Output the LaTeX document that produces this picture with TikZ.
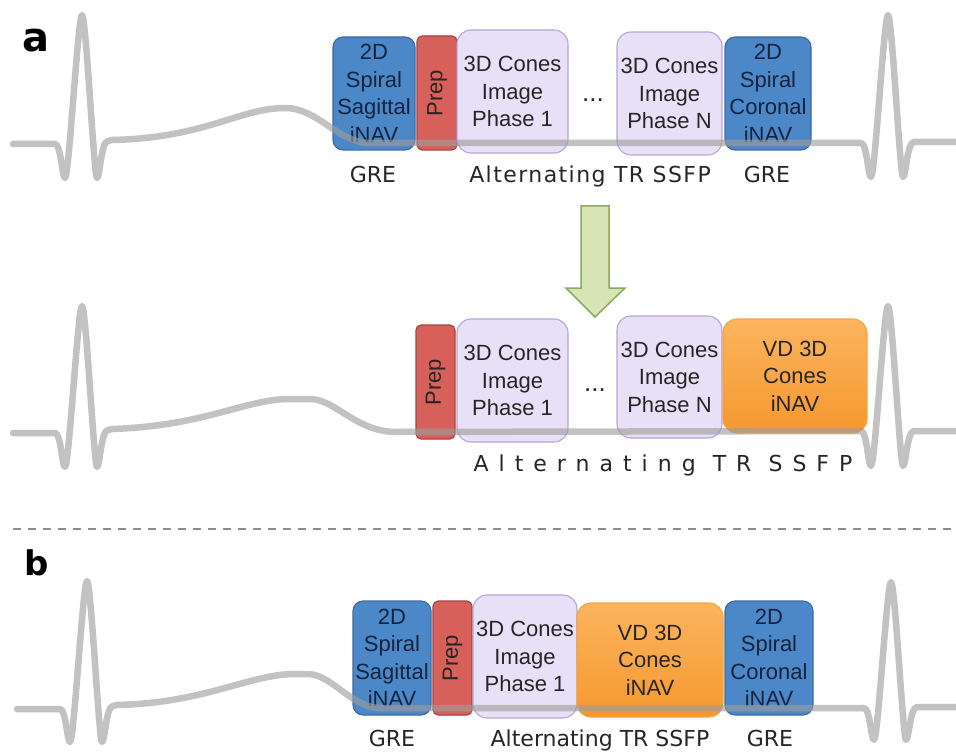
\documentclass[tikz,border=0pt]{standalone}
\usepackage{fontspec}
\setmainfont{Liberation Sans}
\newfontfamily\labfont{DejaVu Sans}
\newfontfamily\labfontA[LetterSpace=6.5]{DejaVu Sans}
\newfontfamily\labfontB[LetterSpace=45.5]{DejaVu Sans}
\newfontfamily\panelfont{DejaVu Sans}
\usetikzlibrary{positioning}
\definecolor{blueF}{HTML}{4C87C7}
\definecolor{blueD}{HTML}{3A6BA3}
\definecolor{navyT}{HTML}{16243F}
\definecolor{prepF}{HTML}{D8605A}
\definecolor{prepD}{HTML}{A4443E}
\definecolor{lavF}{HTML}{E8E0F6}
\definecolor{lavD}{HTML}{B6A7D6}
\definecolor{orT}{HTML}{FBB45E}
\definecolor{orB}{HTML}{F6982E}
\definecolor{orD}{HTML}{F3A443}
\definecolor{arrF}{HTML}{D6E4B6}
\definecolor{arrD}{HTML}{8CAA5C}
\definecolor{ecgC}{HTML}{9D9D9D}
\begin{document}
\begin{tikzpicture}[x=1pt,y=-1pt,
  box/.style={draw, line width=1.1pt, inner sep=0pt, align=center,
    font=\fontsize{22}{27.5}\selectfont},
  bluebox/.style={box, fill=blueF, draw=blueD, rounded corners=10pt, text=navyT},
  prepbox/.style={box, fill=prepF, draw=prepD, rounded corners=5pt, text=black!85},
  phasebox/.style={box, fill=lavF, draw=lavD, rounded corners=14pt, text=black!85},
  vdbox/.style={box, top color=orT, bottom color=orB, draw=orD, rounded corners=14pt, text=black!85},
  lab/.style={anchor=base, text=black!85, inner sep=0pt},
  dotsty/.style={anchor=base, inner sep=0pt, font=\fontsize{26}{30}\selectfont, text=black!85},
  ecg/.style={draw=ecgC, opacity=0.62, line width=6.5pt, line join=round, line cap=round},
  panel/.style={font=\panelfont\bfseries, text=black, inner sep=0pt}
]
\useasboundingbox (0,0) rectangle (956,754);

% panel labels
\node[panel, font=\panelfont\bfseries\fontsize{40}{40}\selectfont] (la) at (36,41) {a};
\node[panel, font=\panelfont\bfseries\fontsize{34}{34}\selectfont] (lb) at (37,563) {b};

% ---------- row 1 ----------
\node[bluebox, minimum width=82pt, minimum height=113pt] (sag1) at (374,93.5) {2D\\Spiral\\Sagittal\\iNAV};
\node[prepbox, minimum width=40pt, minimum height=114pt] (prep1) at (437,93) {\rotatebox{90}{Prep}};
\node[phasebox, minimum width=111pt, minimum height=123pt] (ph1a) at (512.5,91.5) {3D Cones\\Image\\Phase 1};
\node[dotsty] (dots1) at (593,102) {...};
\node[phasebox, minimum width=105pt, minimum height=123pt] (phNa) at (669.5,93.5) {3D Cones\\Image\\Phase N};
\node[bluebox, minimum width=86pt, minimum height=113pt] (cor1) at (768,93.5) {2D\\Spiral\\Coronal\\iNAV};

\node[lab, font=\labfont\fontsize{22}{26}\selectfont] (gre1a) at (373,183) {GRE};
\node[lab, font=\labfontA\fontsize{22}{26}\selectfont] (alt1) at (590,183) {Alternating TR SSFP};
\node[lab, font=\labfont\fontsize{22}{26}\selectfont] (gre1b) at (767,183) {GRE};

% ---------- arrow ----------
\coordinate (arrTop) at (595,206);
\coordinate (arrTip) at (595,317);
\draw[fill=arrF, draw=arrD, line width=1.5pt, line join=miter]
  ([xshift=-14pt]arrTop) -- ([xshift=14pt]arrTop) -- (609,288) -- (625,288) -- (arrTip)
  -- (566,288) -- (581,288) -- cycle;

% ---------- row 2 ----------
\node[prepbox, minimum width=39pt, minimum height=114pt] (prep2) at (435.5,382) {\rotatebox{90}{Prep}};
\node[phasebox, minimum width=111pt, minimum height=123pt] (ph1b) at (512.5,380.5) {3D Cones\\Image\\Phase 1};
\node[dotsty] (dots2) at (595,391) {...};
\node[phasebox, minimum width=105pt, minimum height=122pt] (phNb) at (669.5,377) {3D Cones\\Image\\Phase N};
\node[vdbox, minimum width=144pt, minimum height=114pt] (vd2) at (795,376) {VD 3D\\Cones\\iNAV};
\node[lab, font=\labfontB\fontsize{22}{26}\selectfont] (alt2) at (663,471) {Alternating TR SSFP};

% ---------- separator ----------
\coordinate (sepL) at (13,529);
\coordinate (sepR) at (956,529);
\draw[black!45, line width=1.8pt, dash pattern=on 8pt off 7pt] (sepL) -- (sepR);

% ---------- row 3 ----------
\node[bluebox, minimum width=78pt, minimum height=114pt] (sag3) at (392,658) {2D\\Spiral\\Sagittal\\iNAV};
\node[prepbox, minimum width=39pt, minimum height=114pt] (prep3) at (452.5,658) {\rotatebox{90}{Prep}};
\node[phasebox, minimum width=104pt, minimum height=123pt] (ph1c) at (525,656.5) {3D Cones\\Image\\Phase 1};
\node[vdbox, minimum width=146pt, minimum height=114pt] (vd3) at (650,660) {VD 3D\\Cones\\iNAV};
\node[bluebox, minimum width=88pt, minimum height=114pt] (cor3) at (769,658) {2D\\Spiral\\Coronal\\iNAV};

\node[lab, font=\labfont\fontsize{22}{26}\selectfont] (gre3a) at (392,746) {GRE};
\node[lab, font=\labfont\fontsize{22}{26}\selectfont] (alt3) at (600,746) {Alternating TR SSFP};
\node[lab, font=\labfont\fontsize{22}{26}\selectfont] (gre3b) at (770,746) {GRE};

% ---------- ECG traces (drawn on top, translucent) ----------
\draw[ecg] (13,144) -- (55,144)
  .. controls (61,144) and (62,178) .. (65,178)
  .. controls (69,178) and (78,15) .. (82,15)
  .. controls (86,15) and (94,178) .. (97,178)
  .. controls (100,178) and (101,141) .. (108,141)
  -- (112,140)
  .. controls (205,138) and (240,108) .. (285,108)
  .. controls (318,108) and (338,143) .. (370,143)
  -- (861,143)
  .. controls (867,143) and (868,177) .. (871,177)
  .. controls (875,177) and (884,15) .. (888,15)
  .. controls (892,15) and (900,177) .. (903,177)
  .. controls (906,177) and (907,142) .. (914,142)
  -- (956,142);

\draw[ecg] (13,433) -- (55,433)
  .. controls (61,433) and (62,467) .. (65,467)
  .. controls (69,467) and (78,306) .. (82,306)
  .. controls (86,306) and (94,467) .. (97,467)
  .. controls (100,467) and (101,430) .. (108,430)
  -- (112,429)
  .. controls (205,426) and (245,399) .. (290,399) -- (310,399)
  .. controls (335,399) and (355,431) .. (395,432)
  -- (861,431)
  .. controls (867,431) and (868,466) .. (871,466)
  .. controls (875,466) and (884,306) .. (888,306)
  .. controls (892,306) and (900,466) .. (903,466)
  .. controls (906,466) and (907,431) .. (914,431)
  -- (956,431);

\draw[ecg] (17,709) -- (60,709)
  .. controls (66,709) and (67,742) .. (70,742)
  .. controls (74,742) and (83,581) .. (87,581)
  .. controls (91,581) and (99,742) .. (102,742)
  .. controls (105,742) and (106,706) .. (113,706)
  -- (117,705)
  .. controls (205,703) and (250,674) .. (295,674) -- (308,674)
  .. controls (333,675) and (350,707) .. (380,708)
  -- (864,708)
  .. controls (870,708) and (871,740) .. (874,740)
  .. controls (878,740) and (887,582) .. (891,582)
  .. controls (895,582) and (903,740) .. (906,740)
  .. controls (909,740) and (910,707) .. (917,707)
  -- (956,707);
\end{tikzpicture}
\end{document}
